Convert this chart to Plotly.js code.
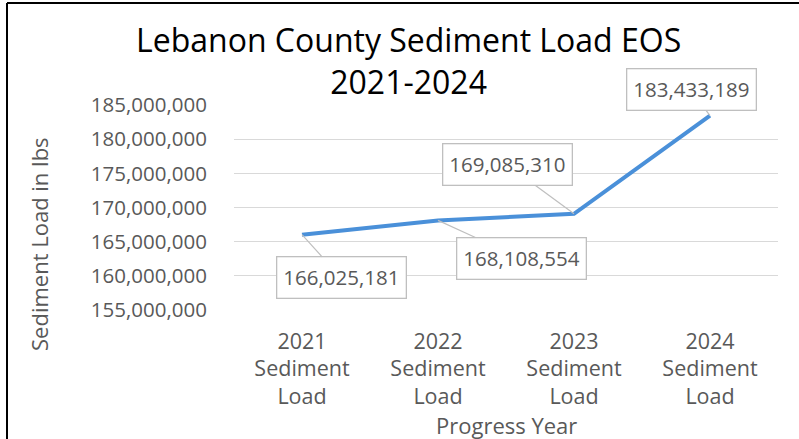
<!DOCTYPE html>
<html>
<head>
<meta charset="utf-8">
<script src="https://cdn.plot.ly/plotly-3.0.1.min.js"></script>
<style>html,body{margin:0;padding:0;background:#fff;}#chart{width:799px;height:439px;}</style>
</head>
<body>
<div id="chart"></div>
<script>
const categories = ["2021<br>Sediment<br>Load", "2022<br>Sediment<br>Load", "2023<br>Sediment<br>Load", "2024<br>Sediment<br>Load"];
const loads = [166025181, 168108554, 169085310, 183433189];
const labelText = ["166,025,181", "168,108,554", "169,085,310", "183,433,189"];
const labelOffsetX = [39, 83, -67, -19];
const labelOffsetY = [43, 38, -49, -26];
const yTicks = [155000000, 160000000, 165000000, 170000000, 175000000, 180000000, 185000000];

const FONT = "Open Sans, Liberation Sans, Arial, sans-serif";
const GRAY = "#595959";

const annotations = categories.map((c, i) => ({
  x: i, y: loads[i], xref: "x", yref: "y",
  text: labelText[i], showarrow: true, arrowhead: 0, arrowwidth: 1.2,
  arrowcolor: "#bfbfbf", ax: labelOffsetX[i], ay: labelOffsetY[i],
  bgcolor: "#ffffff", bordercolor: "#bfbfbf", borderwidth: 1.3, borderpad: 6,
  font: {family: FONT, size: 20.5, color: GRAY}
}));

annotations.push({
  xref: "paper", yref: "paper", x: (39 - 234) / 544, y: (310 - 244) / 205,
  text: "Sediment Load in lbs", textangle: -90, showarrow: false,
  xanchor: "center", yanchor: "middle",
  font: {family: FONT, size: 22, color: GRAY}
});
annotations.push({
  xref: "paper", yref: "paper", x: 0.5, y: (310 - 425) / 205,
  text: "Progress Year", showarrow: false, xanchor: "center", yanchor: "middle",
  font: {family: FONT, size: 22, color: GRAY}
});
annotations.push({
  xref: "paper", yref: "paper", x: (408 - 234) / 544, y: (310 - 60) / 205,
  text: "Lebanon County Sediment Load EOS<br>2021-2024", showarrow: false,
  xanchor: "center", yanchor: "middle",
  font: {family: FONT, size: 32, color: "#000000"}
});

const trace = {
  x: categories.map((c, i) => i), y: loads, type: "scatter", mode: "lines",
  line: {color: "#4a90d9", width: 4}, hoverinfo: "skip"
};

const layout = {
  width: 799, height: 439,
  margin: {l: 234, r: 21, t: 105, b: 129},
  paper_bgcolor: "#ffffff", plot_bgcolor: "#ffffff",
  showlegend: false,
  xaxis: {
    range: [-0.5, 3.5], tickmode: "array", tickvals: [0, 1, 2, 3], ticktext: categories,
    showgrid: false, zeroline: false, showline: false, ticks: "",
    ticklabelstandoff: 16,
    tickfont: {family: FONT, size: 21.5, color: GRAY}, fixedrange: true
  },
  yaxis: {
    range: [155000000, 185000000], tickmode: "array", tickvals: yTicks,
    ticktext: yTicks.map(v => v.toLocaleString("en-US")),
    showgrid: true, gridcolor: "#d9d9d9", gridwidth: 1.3, zeroline: false, showline: false,
    ticks: "outside", ticklen: 22, tickcolor: "rgba(0,0,0,0)",
    tickfont: {family: FONT, size: 20.5, color: GRAY}, fixedrange: true
  },
  annotations: annotations,
  shapes: [
    {type: "line", xref: "paper", yref: "paper", x0: (7 - 234) / 544, x1: (800 - 234) / 544,
     y0: (310 - 3) / 205, y1: (310 - 3) / 205, line: {color: "#000", width: 2}},
    {type: "line", xref: "paper", yref: "paper", x0: (7 - 234) / 544, x1: (7 - 234) / 544,
     y0: (310 - 3) / 205, y1: (310 - 440) / 205, line: {color: "#000", width: 2}}
  ]
};

Plotly.newPlot("chart", [trace], layout, {staticPlot: true, displayModeBar: false});
</script>
</body>
</html>
